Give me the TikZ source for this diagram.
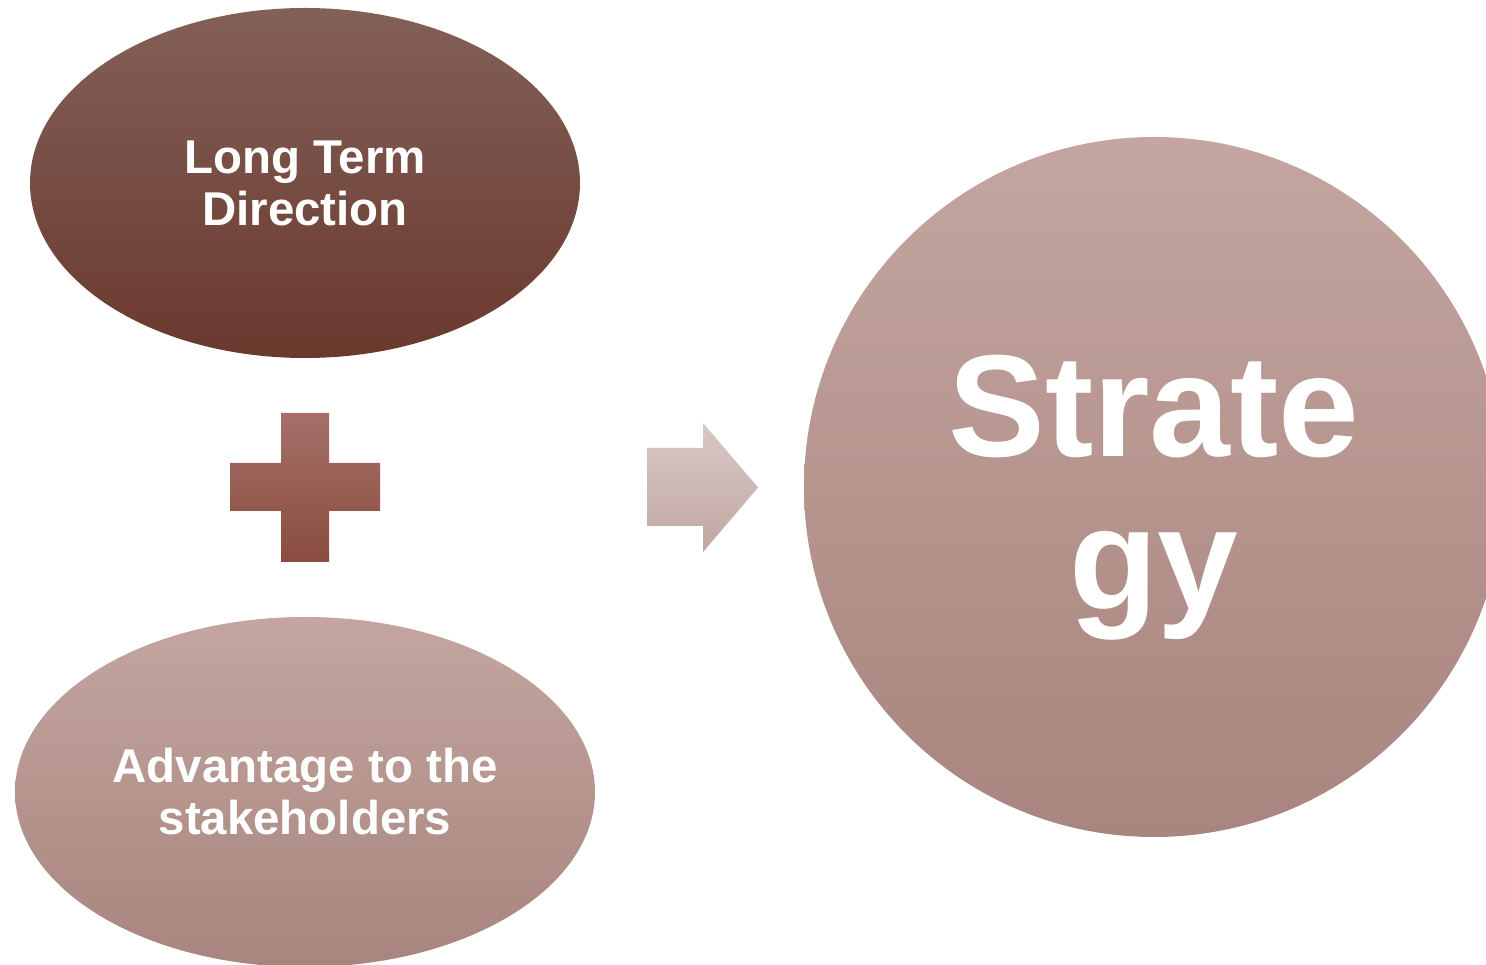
\documentclass[tikz,border=0pt]{standalone}
\usepackage{fontspec}
\setmainfont{Liberation Sans}
\usetikzlibrary{shapes}

\definecolor{termtop}{HTML}{836058}
\definecolor{termbot}{HTML}{6A392E}
\definecolor{plustop}{HTML}{A57068}
\definecolor{plusbot}{HTML}{8A4C40}
\definecolor{arrtop}{HTML}{DAC8C5}
\definecolor{arrbot}{HTML}{C0A6A3}
\definecolor{paletop}{HTML}{C4A5A0}
\definecolor{palebot}{HTML}{A8857E}

\begin{document}
\begin{tikzpicture}

\tikzstyle{goal}=[ellipse, minimum width = 55mm, minimum height = 35mm, inner sep = 0pt, align = center, text = white, font = \fontsize{13.5}{14.8}\selectfont\bfseries]
\tikzstyle{result}=[circle, minimum size = 70mm, inner sep = 0pt, align = center, text = white, text depth = 1mm, font = \fontsize{41.3}{43.6}\selectfont\bfseries, top color = paletop, bottom color = palebot]
\tikzstyle{sign}=[top color = plustop, bottom color = plusbot]
\tikzstyle{pointer}=[top color = arrtop, bottom color = arrbot]

\clip (0,0) rectangle (14.86,-9.65);

\node[goal, top color = termtop, bottom color = termbot] (term) at (3.05,-1.83)  {Long Term\\Direction};
\node[goal, minimum width = 58mm, top color = paletop, bottom color = palebot] (adv) at (3.05,-7.92)  {Advantage to the\\stakeholders};

\shade[sign] (2.81,-4.13) -- (3.29,-4.13) -- (3.29,-4.63) -- (3.80,-4.63) -- (3.80,-5.11) -- (3.29,-5.11) -- (3.29,-5.62) -- (2.81,-5.62) -- (2.81,-5.11) -- (2.30,-5.11) -- (2.30,-4.63) -- (2.81,-4.63) -- cycle;

\shade[pointer] (6.47,-4.48) -- (7.03,-4.48) -- (7.03,-4.23) -- (7.58,-4.875) -- (7.03,-5.52) -- (7.03,-5.26) -- (6.47,-5.26) -- cycle;

\node[result] (strat) at (11.54,-4.87)  {Strate\\gy};

\end{tikzpicture}
\end{document}
